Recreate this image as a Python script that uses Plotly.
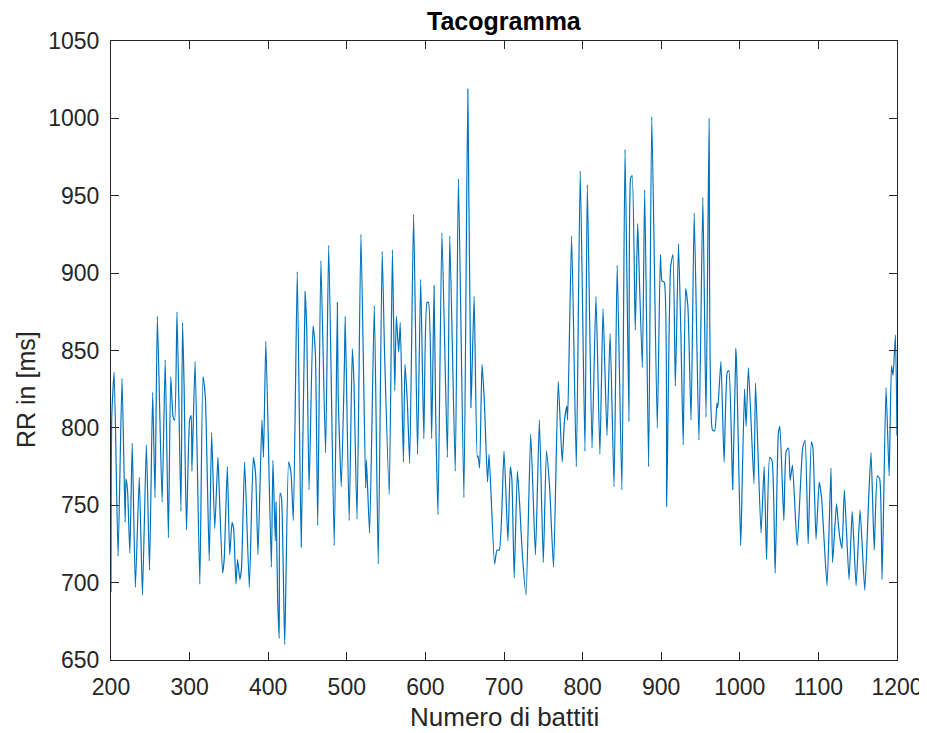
import plotly.graph_objects as go

# Beat number (x) and RR interval in ms (y) at the turning points
beats = [
    200, 201, 204, 209, 214, 218, 219, 221, 224, 227, 231, 236, 240, 245, 249, 253, 256, 259, 265, 269,
    273, 276, 279, 281, 284, 289, 291, 293, 296, 300, 302, 303, 307, 313, 317, 320, 325,
    328, 332, 336, 337, 342, 344, 348, 351, 354, 356, 359, 361, 364, 366, 370, 376, 381, 384, 387,
    392, 394, 397, 404, 406, 409, 410, 412, 414, 415, 417, 421, 426, 429, 432, 437, 442, 447,
    449, 452, 457, 460, 463, 467, 473, 477, 484, 488, 489, 493, 497, 498, 503, 507, 509, 513, 518,
    524, 525, 529, 535, 540, 545, 548, 554, 558, 561, 563, 566, 568, 572, 574, 577, 580,
    585, 590, 594, 598, 602, 604, 608, 611, 613, 616, 621, 628, 631, 638, 642, 649, 654, 658, 662,
    666, 667, 669, 672, 675, 679, 681, 688, 691, 694, 700, 705, 708,
    710, 713, 717, 720, 723, 728, 734, 740, 745, 750, 754, 758, 763, 769, 774, 777, 780, 781, 786,
    792, 797, 803, 806, 812, 817, 822, 826, 831, 835,
    840, 844, 850, 854, 859, 861, 863, 867, 870, 871, 876, 879, 884, 888, 895, 899, 901, 904, 907,
    912, 915, 918, 922, 925, 928, 931, 934, 938, 942, 948, 953, 957, 961,
    965, 968, 971, 972, 976, 980, 984, 986, 990, 991, 995, 996, 1001, 1002, 1006, 1008, 1011, 1018,
    1020, 1027, 1031, 1034, 1038, 1041, 1045, 1049, 1051, 1056, 1059, 1062, 1064, 1067, 1073, 1080,
    1083, 1087,
    1091, 1093, 1097, 1101, 1104, 1111, 1116, 1118, 1123, 1125, 1127, 1130, 1133, 1139, 1143, 1148,
    1153, 1159, 1164, 1167, 1171, 1175, 1178, 1181, 1186, 1190, 1193, 1195, 1198, 1200,
]

rr_ms = [
    694, 808, 836, 717, 832, 739, 767, 760, 719, 790, 697, 768, 692, 789, 708, 823, 755, 872, 752, 844,
    729, 833, 807, 805, 875, 746, 868, 827, 734, 805, 808, 772, 843, 699, 833, 820, 714,
    797, 735, 781, 770, 706, 715, 775, 718, 739, 735, 699, 715, 702, 709, 778, 697, 781, 770, 718,
    805, 781, 856, 710, 779, 727, 752, 690, 664, 758, 754, 660, 778, 771, 740, 901, 723, 888,
    864, 760, 866, 849, 737, 908, 784, 918, 724, 881, 823, 762, 842, 872, 740, 851, 831, 741, 925,
    761, 779, 732, 879, 712, 914, 849, 757, 915, 824, 872, 849, 868, 778, 841, 817, 777,
    938, 783, 896, 793, 881, 881, 793, 892, 811, 744, 926, 781, 924, 772, 961, 755, 1019, 813, 885,
    781, 782, 774, 841, 817, 765, 783, 712, 721, 721, 785, 727, 775,
    767, 703, 772, 750, 721, 692, 796, 718, 805, 713, 785, 762, 710, 830, 778, 805, 814, 805, 924,
    775, 966, 785, 957, 787, 885, 783, 877, 795, 861,
    762, 905, 760, 980, 804, 961, 963, 863, 932, 918, 839, 954, 775, 1001, 800, 912, 895, 894, 749,
    904, 912, 827, 919, 862, 789, 890, 878, 805, 939, 792, 949, 807, 1000,
    799, 798, 816, 813, 843, 778, 836, 837, 778, 760, 851, 840, 724, 740, 825, 801, 839, 764,
    829, 732, 775, 715, 781, 779, 706, 796, 801, 740, 785, 787, 766, 776, 724, 787,
    792, 725,
    791, 787, 728, 765, 755, 698, 774, 713, 751, 740, 730, 722, 760, 702, 746, 698,
    747, 695, 755, 784, 721, 769, 767, 702, 826, 769, 840, 834, 860, 795,
]

x_ticks = list(range(200, 1201, 100))
y_ticks = list(range(650, 1051, 50))

title_text = "Tacogramma"
x_label = "Numero di battiti"
y_label = "RR in [ms]"

AX = "#262626"
FONT = "Liberation Sans, Arial, Helvetica, sans-serif"

# the page body adds an 8 px offset; the figure is sized so the plot box lands where the reference has it
PLOT_W = 786
PLOT_H = 619

fig = go.Figure()
fig.add_trace(go.Scatter(
    x=beats, y=rr_ms, mode="lines",
    line=dict(color="#0072BD", width=1.2, shape="spline", smoothing=0.5),
    showlegend=False, hoverinfo="x+y",
))

axis_common = dict(
    showline=True, linecolor=AX, linewidth=1, mirror="ticks",
    ticks="inside", ticklen=8, tickwidth=1, tickcolor=AX,
    ticklabelstandoff=6, automargin=False, ticklabeloverflow="allow",
    showgrid=False, zeroline=False,
    tickfont=dict(family=FONT, size=23, color=AX),
)

fig.update_layout(
    width=919, height=725,
    margin=dict(l=103, r=30, t=33, b=73, pad=0, autoexpand=False),
    paper_bgcolor="white", plot_bgcolor="white",
    font=dict(family=FONT, color=AX),
    xaxis=dict(range=[200, 1200], tickvals=x_ticks, ticktext=[str(v) for v in x_ticks], **axis_common),
    yaxis=dict(range=[650, 1050], tickvals=y_ticks, ticktext=[str(v) for v in y_ticks], **axis_common),
    annotations=[
        dict(text="<b>" + title_text + "</b>", xref="paper", yref="paper", x=0.5, y=1 + (41 - 21) / PLOT_H,
             xanchor="center", yanchor="middle", showarrow=False,
             font=dict(family=FONT, size=25, color="black")),
        dict(text=x_label, xref="paper", yref="paper", x=0.5, y=-(717 - 660) / PLOT_H,
             xanchor="center", yanchor="middle", showarrow=False,
             font=dict(family=FONT, size=26, color=AX)),
        dict(text=y_label, xref="paper", yref="paper", x=-(111 - 26) / PLOT_W, y=(660 - 390) / PLOT_H,
             xanchor="center", yanchor="middle", textangle=-90, showarrow=False,
             font=dict(family=FONT, size=25, color=AX)),
    ],
)

fig.write_html("out.html")
